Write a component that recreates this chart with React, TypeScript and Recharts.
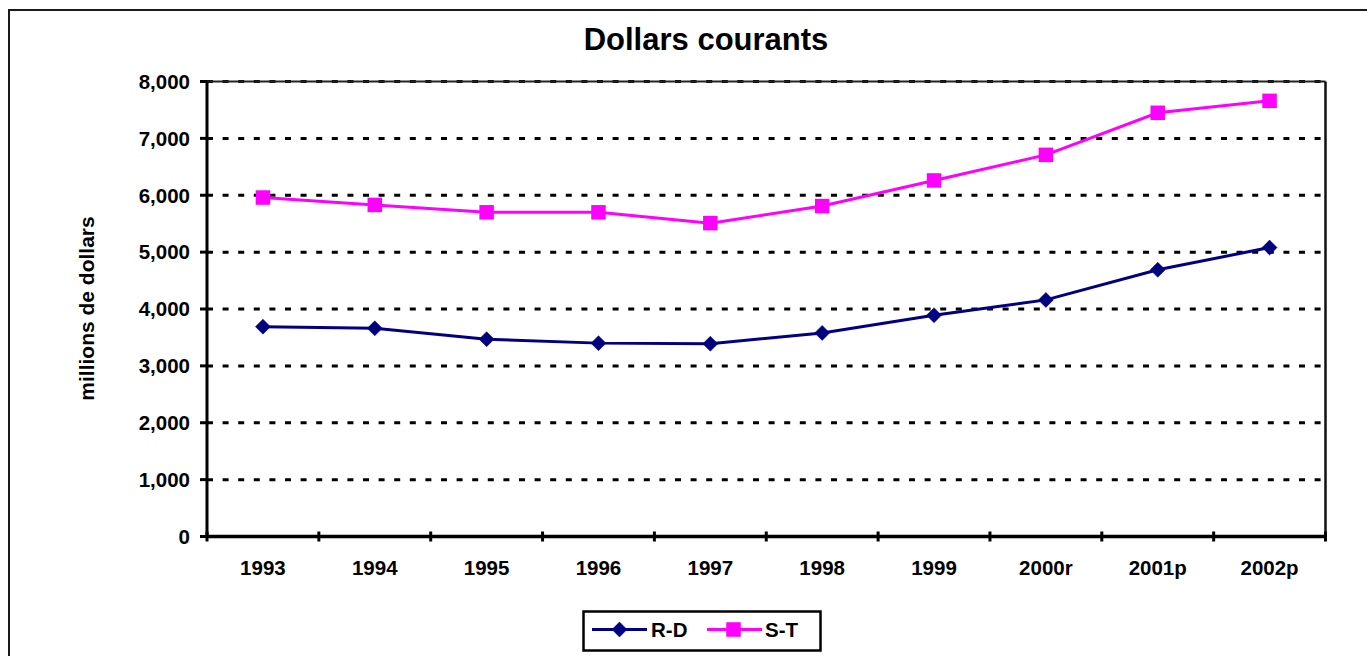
import { CartesianGrid, Line, LineChart, ReferenceLine, XAxis, YAxis } from "recharts";

const years = ["1993", "1994", "1995", "1996", "1997", "1998", "1999", "2000r", "2001p", "2002p"];
const rdValues = [3690, 3660, 3470, 3400, 3390, 3580, 3890, 4160, 4690, 5080];
const stValues = [5960, 5830, 5700, 5700, 5510, 5810, 6260, 6710, 7450, 7660];
const yTicks = [0, 1000, 2000, 3000, 4000, 5000, 6000, 7000, 8000];

const data = years.map((year, i) => ({ year, rd: rdValues[i], st: stValues[i] }));

const FONT = "'Liberation Sans', Arial, sans-serif";
const NAVY = "#000080";
const MAGENTA = "#FF00FF";
const TICK_SIZE = 20.5;

/**
 * Diamond marker for the R-D series.
 */
function Diamond({ cx, cy }: { cx?: number; cy?: number }) {
  if (cx == null || cy == null) return null;
  const r = 7.5;
  return (
    <path
      d={`M${cx},${cy - r} L${cx + r},${cy} L${cx},${cy + r} L${cx - r},${cy} Z`}
      fill={NAVY}
      stroke={NAVY}
      strokeWidth={0.5}
    />
  );
}

/**
 * Square marker for the S-T series.
 */
function Square({ cx, cy }: { cx?: number; cy?: number }) {
  if (cx == null || cy == null) return null;
  const s = 14.5;
  return <rect x={cx - s / 2} y={cy - s / 2} width={s} height={s} fill={MAGENTA} />;
}

/**
 * Category label plus the boundary tick marks crossing the axis line.
 */
function YearTick(props: any) {
  const { x, y, payload, index, visibleTicksCount } = props;
  const half = payload?.offset ?? 0;
  const axisY = y - 24;
  return (
    <g>
      <line x1={x - half} x2={x - half} y1={axisY - 5} y2={axisY + 5} stroke="#000" strokeWidth={3} />
      {index === visibleTicksCount - 1 && (
        <line x1={x + half} x2={x + half} y1={axisY - 5} y2={axisY + 5} stroke="#000" strokeWidth={3} />
      )}
      <text
        x={x}
        y={axisY + 38.5}
        textAnchor="middle"
        fontFamily={FONT}
        fontWeight="bold"
        fontSize={TICK_SIZE}
        fill="#000"
      >
        {payload.value}
      </text>
    </g>
  );
}

function ChartLegend() {
  return (
    <svg
      width={240}
      height={42}
      style={{ position: "absolute", left: 582, top: 610 }}
    >
      <rect x={1.5} y={1.5} width={237} height={39} fill="#fff" stroke="#000" strokeWidth={2.5} />
      <line x1={10} x2={65} y1={19.5} y2={19.5} stroke={NAVY} strokeWidth={3} />
      <Diamond cx={37.5} cy={19.5} />
      <text x={69} y={27} fontFamily={FONT} fontWeight="bold" fontSize={TICK_SIZE} fill="#000">
        R-D
      </text>
      <line x1={125} x2={180} y1={19.5} y2={19.5} stroke={MAGENTA} strokeWidth={3} />
      <Square cx={151.5} cy={19.5} />
      <text x={183} y={27} fontFamily={FONT} fontWeight="bold" fontSize={TICK_SIZE} fill="#000">
        S-T
      </text>
    </svg>
  );
}

export default function App() {
  const tickStyle = { fontFamily: FONT, fontWeight: "bold", fontSize: TICK_SIZE, fill: "#000" };

  return (
    <div
      style={{
        position: "absolute",
        left: 0,
        top: 0,
        width: 1367,
        height: 656,
        overflow: "hidden",
        background: "#fff",
      }}
    >
      <div
        style={{
          position: "absolute",
          left: 8,
          top: 9,
          width: 1365,
          height: 660,
          border: "2.5px solid #1a1a1a",
          boxSizing: "border-box",
        }}
      />
      <div
        style={{
          position: "absolute",
          left: 406,
          top: 23.5,
          width: 600,
          textAlign: "center",
          fontFamily: FONT,
          fontWeight: "bold",
          fontSize: 31,
          lineHeight: 1,
          color: "#000",
        }}
      >
        Dollars courants
      </div>
      <div
        style={{
          position: "absolute",
          left: 85.5 - 150,
          top: 308.5 - 10.5,
          width: 300,
          textAlign: "center",
          fontFamily: FONT,
          fontWeight: "bold",
          fontSize: 21,
          lineHeight: "21px",
          color: "#000",
          transform: "rotate(-90deg)",
        }}
      >
        millions de dollars
      </div>
      <div style={{ position: "absolute", left: 0, top: 0 }}>
        <LineChart
          width={1367}
          height={656}
          data={data}
          margin={{ top: 81.5, right: 41.5, bottom: 79.5, left: 8 }}
        >
          <CartesianGrid
            horizontal
            vertical={false}
            stroke="#000"
            strokeWidth={3}
            strokeDasharray="6 9.6"
          />
          <XAxis
            dataKey="year"
            scale="band"
            height={40}
            interval={0}
            tickLine={false}
            tickSize={0}
            tickMargin={24}
            axisLine={{ stroke: "#000", strokeWidth: 3.5 }}
            tick={<YearTick />}
          />
          <YAxis
            domain={[0, 8000]}
            ticks={yTicks}
            interval={0}
            width={199}
            tickSize={7}
            tickMargin={10}
            tickLine={{ stroke: "#000", strokeWidth: 3 }}
            axisLine={{ stroke: "#000", strokeWidth: 3 }}
            tick={tickStyle}
            tickFormatter={(v: number) => v.toLocaleString("en-US")}
          />
          <ReferenceLine y={8000} stroke="#222" strokeWidth={2} />
          <ReferenceLine x="2002p" position="end" stroke="#111" strokeWidth={2.5} />
          <Line
            dataKey="rd"
            name="R-D"
            stroke={NAVY}
            strokeWidth={3}
            dot={(p: any) => <Diamond key={`rd-${p.index}`} cx={p.cx} cy={p.cy} />}
            activeDot={false}
            isAnimationActive={false}
          />
          <Line
            dataKey="st"
            name="S-T"
            stroke={MAGENTA}
            strokeWidth={3}
            dot={(p: any) => <Square key={`st-${p.index}`} cx={p.cx} cy={p.cy} />}
            activeDot={false}
            isAnimationActive={false}
          />
        </LineChart>
      </div>
      <ChartLegend />
    </div>
  );
}
